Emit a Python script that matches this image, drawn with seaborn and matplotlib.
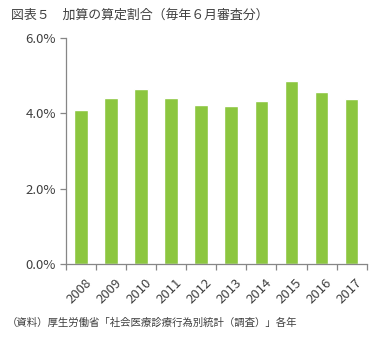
import matplotlib
matplotlib.use("Agg")
import matplotlib.pyplot as plt
import matplotlib.transforms as mtransforms
import numpy as np
import pandas as pd
import seaborn as sns
from matplotlib.ticker import FixedLocator, FuncFormatter

years = ["2008", "2009", "2010", "2011", "2012", "2013", "2014", "2015", "2016", "2017"]
rates = [4.10, 4.42, 4.64, 4.42, 4.21, 4.19, 4.34, 4.85, 4.56, 4.37]
y_ticks = [0, 2, 4, 6]

title = "図表５　加算の算定割合（毎年６月審査分）"
source = "（資料）厚生労働省「社会医療診療行為別統計（調査）」各年"

sns.set_theme(style="white")
plt.rcParams["font.family"] = ["Noto Sans CJK JP", "DejaVu Sans"]

text_color = "#404040"
axis_color = "#868686"
bar_color = "#8CC63F"

df = pd.DataFrame({"year": years, "rate": rates})

fig = plt.figure(figsize=(3.81, 3.42), dpi=100)
ax = fig.add_axes([0.1724, 0.2281, 0.7901, 0.6608])

sns.barplot(data=df, x="year", y="rate", color=bar_color, width=0.45,
            saturation=1, ax=ax)

ax.set_xlim(-0.5, len(years) - 0.5)
ax.set_ylim(0, 6)
ax.set_yticks(y_ticks)
ax.yaxis.set_major_formatter(FuncFormatter(lambda v, _: f"{v:.1f}%"))
ax.set_xlabel("")
ax.set_ylabel("")

for side in ("top", "right"):
    ax.spines[side].set_visible(False)
for side in ("left", "bottom"):
    ax.spines[side].set_color(axis_color)
    ax.spines[side].set_linewidth(0.9)

ax.tick_params(axis="y", direction="out", length=4, width=0.9, color=axis_color,
               labelsize=9.5, labelcolor=text_color, pad=3, left=True)
ax.tick_params(axis="x", which="major", length=0, labelsize=9.5,
               labelcolor=text_color, pad=9)
ax.xaxis.set_minor_locator(FixedLocator(np.arange(-0.5, len(years), 1.0)))
ax.tick_params(axis="x", which="minor", direction="out", length=4, width=0.9,
               color=axis_color, bottom=True)
shift = mtransforms.ScaledTranslation(4 / 100, 0, fig.dpi_scale_trans)
for lbl in ax.get_xticklabels():
    lbl.set_rotation(45)
    lbl.set_ha("right")
    lbl.set_va("top")
    lbl.set_rotation_mode("anchor")
    lbl.set_transform(lbl.get_transform() + shift)

fig.text(0.03, 0.955, title, fontsize=9.3, color=text_color, va="center", ha="left")
fig.text(0.018, 0.055, source, fontsize=7.5, color=text_color, va="center", ha="left")

fig.savefig("out.png", dpi=100, facecolor="white")
